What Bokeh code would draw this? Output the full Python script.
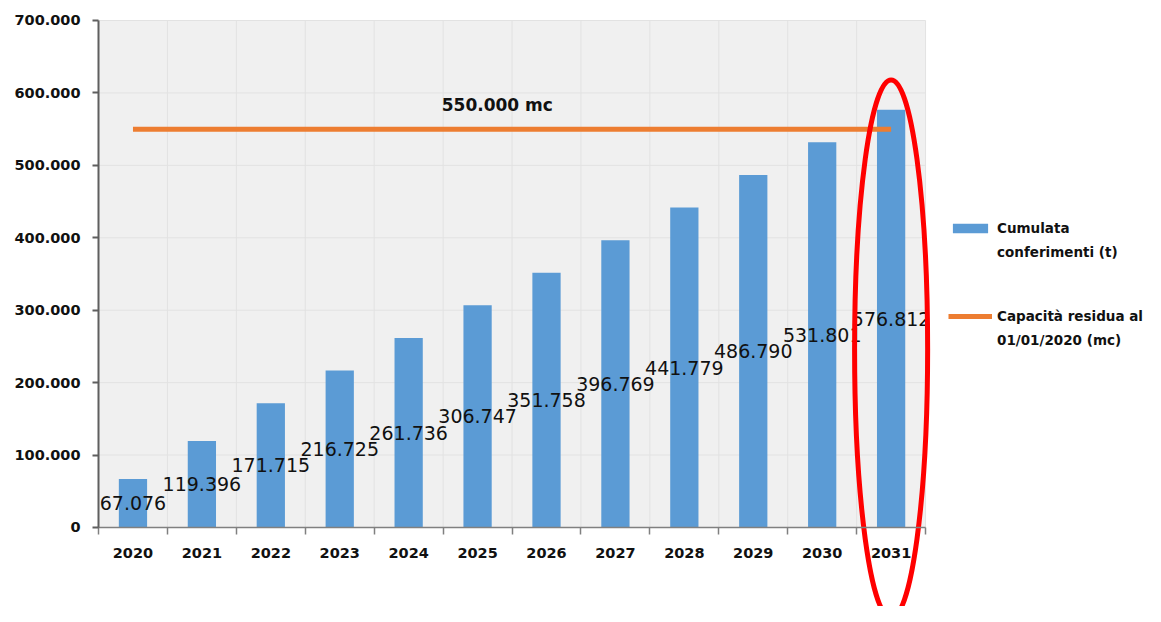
from bokeh.plotting import figure
from bokeh.models import (Range1d, LinearAxis, FixedTicker, BoxAnnotation, Legend,
                          LegendItem, ColumnDataSource, Label)
from bokeh.embed import file_html
from bokeh.resources import INLINE
from bokeh.core.properties import value

# ---------------- data ----------------
years = ["2020", "2021", "2022", "2023", "2024", "2025",
         "2026", "2027", "2028", "2029", "2030", "2031"]
cumulative = [67076, 119396, 171715, 216725, 261736, 306747,
              351758, 396769, 441779, 486790, 531801, 576812]
capacity = [550000] * 12
capacity_label = "550.000 mc"
y_ticks = [0, 100000, 200000, 300000, 400000, 500000, 600000, 700000]
highlight_year = "2031"
series1_lines = ["Cumulata", "conferimenti (t)"]
series2_lines = ["Capacità residua al", "01/01/2020 (mc)"]


def fmt(v):
    return f"{v:,}".replace(",", ".")


idx = list(range(len(years)))
src = ColumnDataSource(dict(
    x=idx, year=years, cum=cumulative, cap=capacity,
    half=[v / 2 for v in cumulative],
    lbl=[fmt(v) for v in cumulative],
))

FONT = "DejaVu Sans"
W, H = 1145, 606

p = figure(width=W, height=H, output_backend="svg", toolbar_location=None,
           x_range=Range1d(-1.922, 14.691), y_range=Range1d(-109073, 727613),
           x_axis_type=None, y_axis_type=None, min_border=0, title=None)
p.outline_line_color = None
p.background_fill_color = "white"
p.border_fill_color = "white"

# plot-area background
p.add_layout(BoxAnnotation(left=-0.5, right=11.5, bottom=y_ticks[0], top=y_ticks[-1],
                           fill_color="#f0f0f0", fill_alpha=1.0, line_color=None,
                           level="underlay", editable=False))

# grid lines
n = len(years)
p.segment(x0=[-0.5] * len(y_ticks), x1=[n - 0.5] * len(y_ticks), y0=y_ticks, y1=y_ticks,
          line_color="#e2e2e2", line_width=1)
bounds_x = [i - 0.5 for i in range(n + 1)]
p.segment(x0=bounds_x, x1=bounds_x, y0=[y_ticks[0]] * len(bounds_x),
          y1=[y_ticks[-1]] * len(bounds_x), line_color="#e2e2e2", line_width=1)

bars = p.vbar(x="x", top="cum", width=0.41, source=src, fill_color="#5B9BD5",
              line_color=None)
line = p.line(x="x", y="cap", source=src, line_color="#ED7D31", line_width=5)

p.text(x="x", y="half", text="lbl", source=src, text_align="center",
       text_baseline="middle", text_font=value(FONT), text_font_size="19px",
       text_color="#111111")

p.add_layout(Label(x=4.48, y=584000, text=capacity_label, text_align="left",
                   text_baseline="middle", text_font=FONT, text_font_size="17px",
                   text_font_style="bold", text_color="#111111"))

# highlight ellipse
p.ellipse(x=[years.index(highlight_year)], y=[246400], width=1.06, height=743000,
          fill_color=None, line_color="#ff0000", line_width=5)

# ---------------- axes ----------------
yaxis = LinearAxis(fixed_location=-0.5, bounds=(y_ticks[0], y_ticks[-1]),
                   ticker=FixedTicker(ticks=y_ticks),
                   major_label_overrides={t: fmt(t) for t in y_ticks},
                   major_tick_out=6, major_tick_in=0,
                   axis_line_color="#5f5f5f", axis_line_width=2,
                   major_tick_line_color="#5f5f5f", major_tick_line_width=2,
                   major_label_standoff=12, major_label_text_font=FONT,
                   major_label_text_font_size="14.5px",
                   major_label_text_font_style="bold",
                   major_label_text_color="#111111")
p.add_layout(yaxis, "left")

xaxis = LinearAxis(fixed_location=0, bounds=(-0.5, n - 0.5),
                   ticker=FixedTicker(ticks=idx, minor_ticks=bounds_x),
                   major_label_overrides={i: y for i, y in enumerate(years)},
                   axis_line_color="#808080", axis_line_width=1.5,
                   major_tick_line_color=None, major_tick_out=0, major_tick_in=0,
                   minor_tick_line_color="#808080", minor_tick_line_width=1.5,
                   minor_tick_out=7, minor_tick_in=0,
                   major_label_standoff=14, major_label_text_font=FONT,
                   major_label_text_font_size="14.5px",
                   major_label_text_font_style="bold",
                   major_label_text_color="#111111")
p.add_layout(xaxis, "below")

# ---------------- legend ----------------
common = dict(glyph_width=44, glyph_height=12, label_height=24, label_standoff=5,
              spacing=0, padding=0, margin=0, border_line_color=None,
              background_fill_alpha=0, label_text_font=FONT,
              label_text_font_size="13.5px", label_text_font_style="bold",
              label_text_color="#111111")
legend1 = Legend(items=[LegendItem(label=series1_lines[0], renderers=[bars]),
                        LegendItem(label=series1_lines[1], renderers=[])],
                 location=(948, 342), **common)
legend2 = Legend(items=[LegendItem(label=series2_lines[0], renderers=[line]),
                        LegendItem(label=series2_lines[1], renderers=[])],
                 location=(948, 254), **common)
p.add_layout(legend1)
p.add_layout(legend2)

open("out.html", "w").write(file_html(p, INLINE))
